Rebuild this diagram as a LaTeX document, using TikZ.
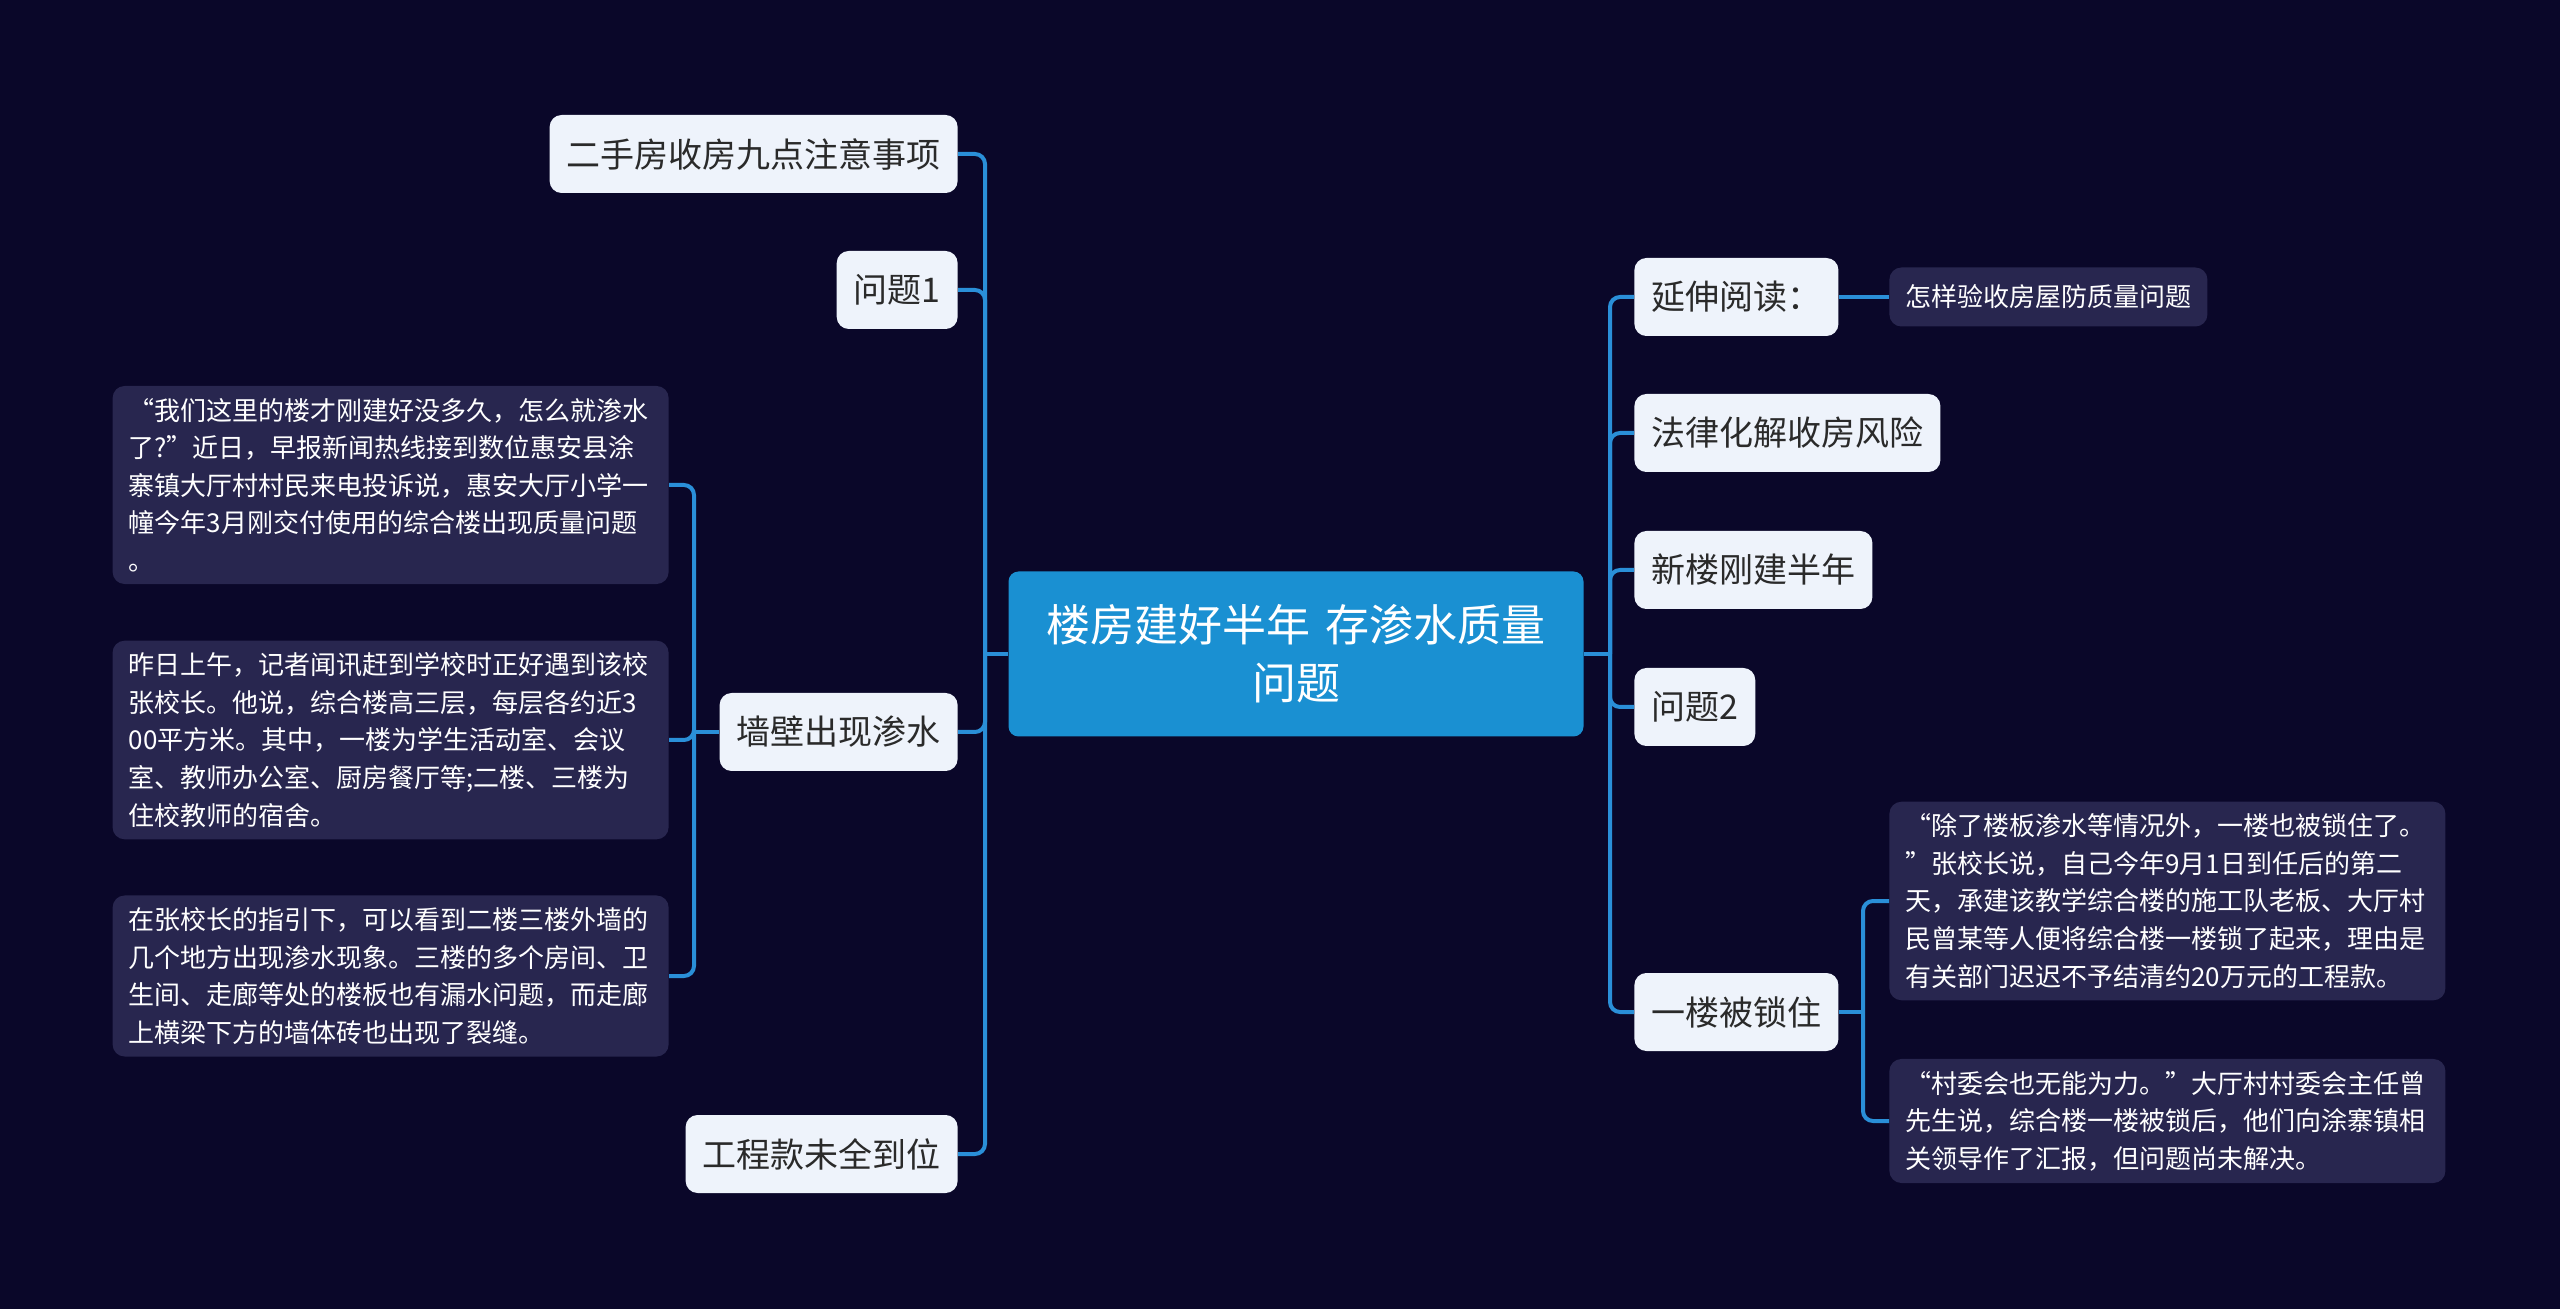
\documentclass[tikz,border=0pt]{standalone}
\usepackage{fontspec}
\setmainfont{Noto Sans CJK SC}
\definecolor{bgnavy}{HTML}{0A0729}
\definecolor{rootblue}{HTML}{1A90D2}
\definecolor{topicfill}{HTML}{EEF3FB}
\definecolor{topictext}{HTML}{2A2A2A}
\definecolor{notefill}{HTML}{28264F}
\definecolor{linkblue}{HTML}{2A8FD8}
\begin{document}
\begin{tikzpicture}[x=0.5pt,y=-0.5pt,
  link/.style={draw=linkblue,line width=2pt,rounded corners=5pt},
  rootbox/.style={fill=rootblue,rounded corners=5pt,text=white,align=center,text width=270pt,inner xsep=8.75pt,minimum height=82.5pt,font=\fontsize{22}{29}\selectfont},
  topic/.style={fill=topicfill,rounded corners=6pt,text=topictext,inner xsep=8.5pt,inner ysep=0pt,minimum height=39pt,font=\fontsize{17}{20}\selectfont},
  note/.style={fill=notefill,rounded corners=6pt,text=white,align=left,text width=262pt,inner xsep=8pt,inner ysep=6pt,font=\fontsize{13}{18.8}\selectfont},
  tag/.style={fill=notefill,rounded corners=6pt,text=white,inner xsep=8pt,inner ysep=0pt,minimum height=29.5pt,font=\fontsize{13}{16}\selectfont}]
\fill[bgnavy] (0,0) rectangle (2560,1309);
\useasboundingbox (0,0) rectangle (2560,1309);
\node[rootbox] (root) at (1296,654) {楼房建好半年 存渗水质量\\问题};
\node[topic,anchor=east] (l1) at (958,154) {二手房收房九点注意事项};
\node[topic,anchor=east] (l2) at (958,290) {问题1};
\node[topic,anchor=east] (l3) at (958,732) {墙壁出现渗水};
\node[topic,anchor=east] (l4) at (958,1154) {工程款未全到位};
\node[note,anchor=east] (n1) at (669,485) {“我们这里的楼才刚建好没多久，怎么就渗水\\了?”近日，早报新闻热线接到数位惠安县涂\\寨镇大厅村村民来电投诉说，惠安大厅小学一\\幢今年3月刚交付使用的综合楼出现质量问题\\。};
\node[note,anchor=east] (n2) at (669,740) {昨日上午，记者闻讯赶到学校时正好遇到该校\\张校长。他说，综合楼高三层，每层各约近3\\00平方米。其中，一楼为学生活动室、会议\\室、教师办公室、厨房餐厅等;二楼、三楼为\\住校教师的宿舍。};
\node[note,anchor=east] (n3) at (669,976) {在张校长的指引下，可以看到二楼三楼外墙的\\几个地方出现渗水现象。三楼的多个房间、卫\\生间、走廊等处的楼板也有漏水问题，而走廊\\上横梁下方的墙体砖也出现了裂缝。};
\node[topic,anchor=west] (r1) at (1634,297) {延伸阅读：};
\node[topic,anchor=west] (r2) at (1634,433) {法律化解收房风险};
\node[topic,anchor=west] (r3) at (1634,570) {新楼刚建半年};
\node[topic,anchor=west] (r4) at (1634,707) {问题2};
\node[topic,anchor=west] (r5) at (1634,1012) {一楼被锁住};
\node[tag,anchor=west] (t1) at (1889,297) {怎样验收房屋防质量问题};
\node[note,anchor=west] (n4) at (1889,901) {“除了楼板渗水等情况外，一楼也被锁住了。\\”张校长说，自己今年9月1日到任后的第二\\天，承建该教学综合楼的施工队老板、大厅村\\民曾某等人便将综合楼一楼锁了起来，理由是\\有关部门迟迟不予结清约20万元的工程款。};
\node[note,anchor=west] (n5) at (1889,1121) {“村委会也无能为力。”大厅村村委会主任曾\\先生说，综合楼一楼被锁后，他们向涂寨镇相\\关领导作了汇报，但问题尚未解决。};
\coordinate (jl) at (985,654);
\coordinate (jr) at (1610,654);
\coordinate (jl3) at (694,732);
\coordinate (jr5) at (1863,1012);
\draw[link] (root.west) -- (jl);
\draw[link] (root.east) -- (jr);
\foreach \n in {l1,l2,l3,l4} \draw[link] (jl) |- (\n.east);
\foreach \n in {r1,r2,r3,r4,r5} \draw[link] (jr) |- (\n.west);
\draw[link] (l3.west) -- (jl3);
\foreach \n in {n1,n2,n3} \draw[link] (jl3) |- (\n.east);
\draw[link] (r1.east) -- (t1.west);
\draw[link] (r5.east) -- (jr5);
\foreach \n in {n4,n5} \draw[link] (jr5) |- (\n.west);
\end{tikzpicture}
\end{document}
